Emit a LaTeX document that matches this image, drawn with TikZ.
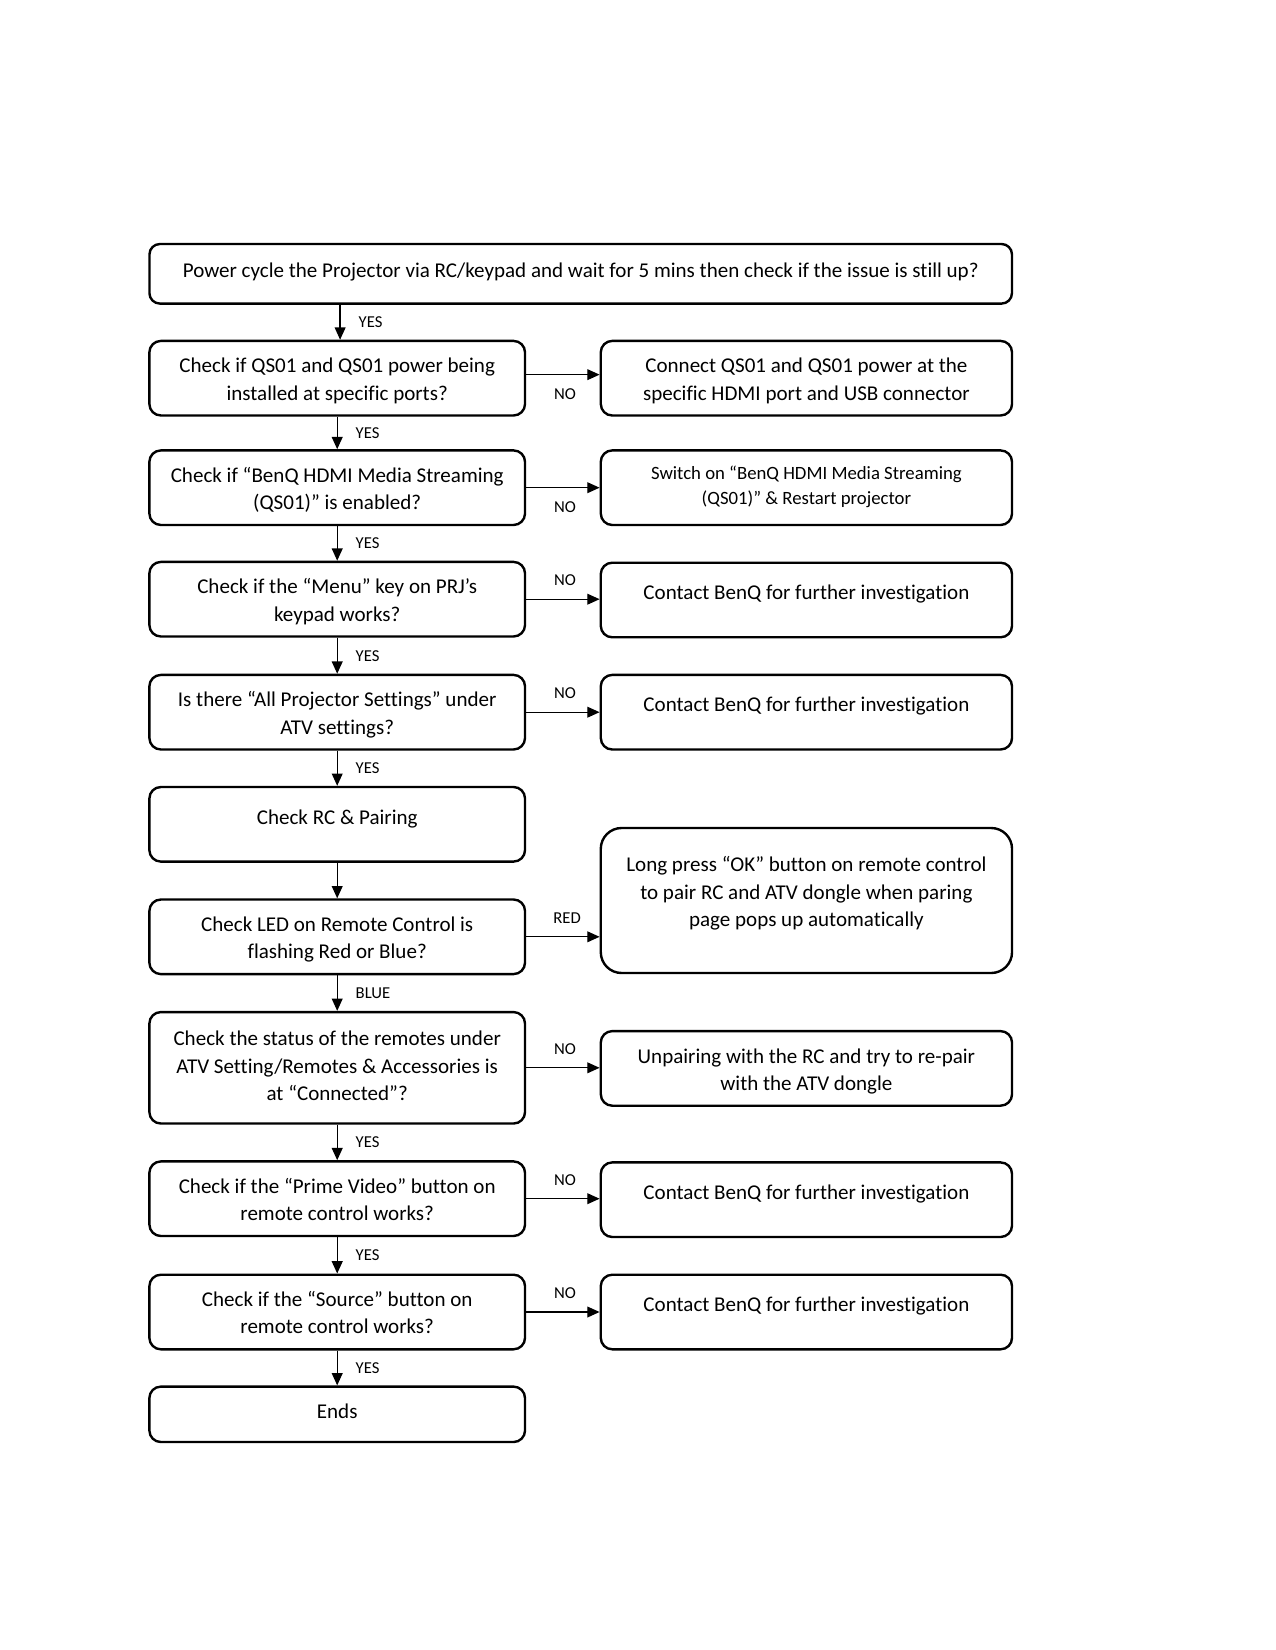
\documentclass[tikz,border=0pt]{standalone}
\usepackage{fontspec}
\setmainfont{Carlito}[Ligatures=NoCommon]
\usetikzlibrary{arrows.meta}
\newcommand\st{\rule{0pt}{10.4pt}}
\begin{document}
\begin{tikzpicture}[x=0.48pt,y=-0.48pt,
  dep/.style={execute at end node={\rule[-#1]{0pt}{0pt}}},
  box/.style={draw, line width=1.15pt, align=center, inner sep=0pt,
    font=\fontsize{10.1}{13.1}\selectfont, dep=2.4pt},
  lbox/.style={box, rounded corners=5.5pt, minimum width=180.3pt, minimum height=35.8pt},
  rbox/.style={box, rounded corners=5.5pt, minimum width=197.4pt, minimum height=35.8pt},
  txt/.style={align=center, inner sep=0pt, font=\fontsize{10.1}{13.1}\selectfont},
  arr/.style={line width=0.6pt, -{Triangle[length=5.9pt,width=5.2pt]}},
  vlab/.style={font=\fontsize{8}{9}\selectfont, inner sep=0pt, anchor=west, xshift=8.6pt},
  alab/.style={font=\fontsize{8}{9}\selectfont, inner sep=0pt, above=6pt, xshift=1pt},
  blab/.style={font=\fontsize{8}{9}\selectfont, inner sep=0pt, below=6.5pt, xshift=1pt}
]
\useasboundingbox (0,0) rectangle (1275,1650);

% top box
\node[box, dep=6.7pt, rounded corners=5pt, minimum width=414pt, minimum height=28.6pt] (top) at (580.7,273.8)
  {\st Power cycle the Projector via RC/keypad and wait for 5 mins then check if the issue is still up?};

% left column
\node[lbox] (l2) at (337.2,378.2) {\st Check if QS01 and QS01 power being\\installed at specific ports?};
\node[lbox] (l3) at (337.2,487.7) {\st Check if “BenQ HDMI Media Streaming\\(QS01)” is enabled?};
\node[lbox] (l4) at (337.2,599.2) {\st Check if the “Menu” key on PRJ’s\\keypad works?};
\node[lbox] (l5) at (337.2,712.2) {\st Is there “All Projector Settings” under\\ATV settings?};
\node[lbox] (l6) at (337.2,824.3) {};
\node[txt] (l6t) at (337.2,818.5) {Check RC \& Pairing};
\node[lbox] (l7) at (337.2,936.8) {\st Check LED on Remote Control is\\flashing Red or Blue?};
\node[lbox, dep=5.4pt, minimum height=53.5pt] (l8) at (337.2,1067.8) {\st Check the status of the remotes under\\ATV Setting/Remotes \& Accessories is\\at “Connected”?};
\node[lbox] (l9) at (337.2,1198.7) {\st Check if the “Prime Video” button on\\remote control works?};
\node[lbox] (l10) at (337.2,1312) {\st Check if the “Source” button on\\remote control works?};
\node[lbox, dep=6.7pt, minimum height=26.6pt] (l11) at (337.2,1414.3) {\st Ends};

% right column
\node[rbox] (r2) at (806.4,378.2) {\st Connect QS01 and QS01 power at the\\specific HDMI port and USB connector};
\node[rbox, font=\fontsize{9}{12.1}\selectfont, dep=0pt] (r3) at (806.4,487.7) {Switch on “BenQ HDMI Media Streaming\\(QS01)” \& Restart projector};
\node[rbox, dep=10.7pt] (r4) at (806.4,600) {\st Contact BenQ for further investigation};
\node[rbox, dep=10.7pt] (r5) at (806.4,712.2) {\st Contact BenQ for further investigation};
\node[rbox, rounded corners=10pt, minimum height=69.6pt] (r7) at (806.4,900.5) {};
\node[txt] (r7t) at (806.4,893.5) {Long press “OK” button on remote control\\to pair RC and ATV dongle when paring\\page pops up automatically};
\node[rbox] (r8) at (806.4,1068.4) {\st Unpairing with the RC and try to re-pair\\with the ATV dongle};
\node[rbox, dep=10.7pt] (r9) at (806.4,1199.7) {\st Contact BenQ for further investigation};
\node[rbox, dep=10.7pt] (r10) at (806.4,1312) {\st Contact BenQ for further investigation};

% vertical connectors
\draw[arr] ([xshift=1.4pt]top.south -| l2.north) -- node[vlab] (y1) {YES} ([xshift=1.4pt]l2.north);
\draw[arr] (l2.south) -- node[vlab] (y2) {YES} (l3.north);
\draw[arr] (l3.south) -- node[vlab] (y3) {YES} (l4.north);
\draw[arr] (l4.south) -- node[vlab] (y4) {YES} (l5.north);
\draw[arr] (l5.south) -- node[vlab] (y5) {YES} (l6.north);
\draw[arr] (l6.south) -- (l7.north);
\draw[arr] (l7.south) -- node[vlab] (yb) {BLUE} (l8.north);
\draw[arr] (l8.south) -- node[vlab] (y6) {YES} (l9.north);
\draw[arr] (l9.south) -- node[vlab] (y7) {YES} (l10.north);
\draw[arr] (l10.south) -- node[vlab] (y8) {YES} (l11.north);

% horizontal connectors
\draw[arr] ([yshift=1.7pt]l2.east) -- node[blab] (n2) {NO} ([yshift=1.7pt]l2.east -| r2.west);
\draw[arr] (l3.east) -- node[blab] (n3) {NO} (l3.east -| r3.west);
\draw[arr] (l4.east) -- node[alab] (n4) {NO} (l4.east -| r4.west);
\draw[arr] (l5.east) -- node[alab] (n5) {NO} (l5.east -| r5.west);
\draw[arr] (l7.east) -- node[alab, xshift=1pt] (nr) {RED} (l7.east -| r7.west);
\draw[arr] (l8.east) -- node[alab] (n8) {NO} (l8.east -| r8.west);
\draw[arr] (l9.east) -- node[alab] (n9) {NO} (l9.east -| r9.west);
\draw[arr] (l10.east) -- node[alab] (n10) {NO} (l10.east -| r10.west);
\end{tikzpicture}
\end{document}
